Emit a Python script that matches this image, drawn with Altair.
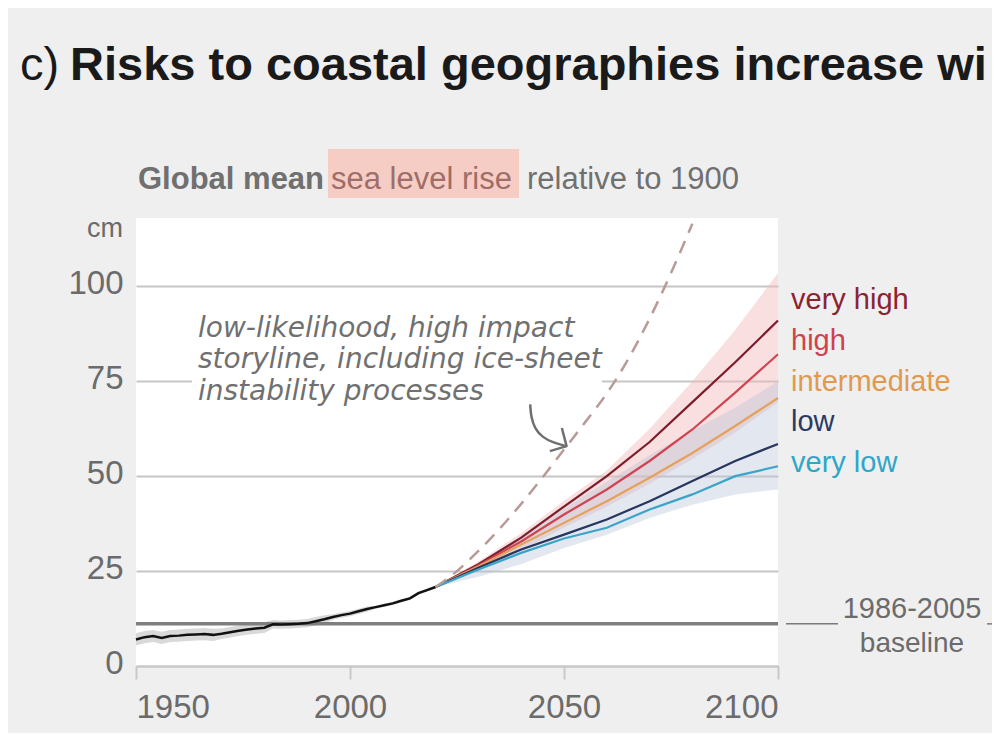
import altair as alt
import pandas as pd

# ---------------- data ----------------
hist_years = [1950, 1952, 1954, 1956, 1958, 1960, 1962, 1964, 1966, 1968,
              1970, 1972, 1974, 1976, 1978, 1980, 1982, 1984, 1986, 1988,
              1990, 1992, 1994, 1996, 1998, 2000, 2002, 2004, 2006, 2008,
              2010, 2012, 2014, 2016, 2018, 2020]
hist_values = [7.0, 7.6, 7.9, 7.4, 7.9, 8.0, 8.2, 8.3, 8.4, 8.2,
               8.5, 8.9, 9.3, 9.6, 9.9, 10.1, 11.0, 10.9, 11.0, 11.1,
               11.3, 11.8, 12.3, 12.9, 13.4, 13.8, 14.4, 15.0, 15.5, 16.0,
               16.5, 17.2, 17.8, 19.2, 20.0, 20.8]
hist_lo = [5.4, 6.0, 6.3, 5.8, 6.3, 6.4, 6.6, 6.7, 6.8, 6.6,
           7.1, 7.5, 7.9, 8.2, 8.5, 8.7, 9.9, 9.8, 9.9, 10.0,
           10.2, 10.7, 11.2, 12.2, 12.7, 13.1, 13.7, 14.3, 15.1, 15.6,
           16.1, 16.8, 17.4, 18.8, 19.6, 20.4]
hist_hi = [8.6, 9.2, 9.5, 9.0, 9.5, 9.6, 9.8, 9.9, 10.0, 9.8,
           9.9, 10.3, 10.7, 11.0, 11.3, 11.5, 12.1, 12.0, 12.1, 12.2,
           12.4, 12.9, 13.4, 13.6, 14.1, 14.5, 15.1, 15.7, 15.9, 16.4,
           16.9, 17.6, 18.2, 19.6, 20.4, 21.2]

proj_years = [2020, 2030, 2040, 2050, 2060, 2070, 2080, 2090, 2100]
scenarios = ["very high", "high", "intermediate", "low", "very low"]
very_high = [20.8, 26.8, 33.8, 42.0, 50.0, 59.0, 69.5, 80.0, 91.0]
high = [20.8, 26.5, 32.8, 39.9, 46.5, 54.0, 62.3, 72.0, 82.1]
intermediate = [20.8, 26.2, 32.0, 37.7, 43.4, 49.6, 56.1, 63.2, 70.6]
low = [20.8, 25.9, 30.7, 34.6, 38.6, 43.4, 48.7, 54.0, 58.5]
very_low = [20.8, 25.4, 29.8, 33.6, 36.4, 41.2, 45.2, 50.0, 52.6]

high_band_lo = [20.8, 25.0, 30.5, 36.5, 42.0, 48.0, 54.5, 61.5, 69.5]
high_band_hi = [20.8, 27.5, 35.0, 43.5, 51.5, 62.5, 75.0, 88.5, 103.5]
low_band_lo = [20.8, 23.5, 26.8, 31.1, 34.6, 39.0, 42.5, 45.2, 46.5]
low_band_hi = [20.8, 27.0, 34.0, 41.5, 48.5, 55.5, 62.0, 68.0, 75.0]

storyline_years = [2020, 2025, 2030, 2035, 2040, 2045, 2050, 2055, 2060, 2065, 2070, 2075, 2080]
storyline_values = [20.8, 25.0, 30.3, 36.2, 42.7, 49.7, 57.0, 64.3, 71.8, 80.8, 91.5, 103.5, 116.5]

baseline_value = 11.1

x_ticks = [1950, 2000, 2050, 2100]
y_ticks = [0, 25, 50, 75, 100]

annotation_lines = ["low-likelihood, high impact",
                    "storyline, including ice-sheet",
                    "instability processes"]

arrow_years = [2042.1, 2042.3, 2043.2, 2045.0, 2047.5, 2050.6]
arrow_values = [68.9, 65.5, 62.5, 60.2, 58.8, 57.9]
arrowhead_years = [2046.7, 2050.6, 2049.5]
arrowhead_values = [56.6, 57.9, 62.7]

# ---------------- styles ----------------
line_colors = ["#7d1d2b", "#d04452", "#e5a15c", "#27365e", "#3ba5c9"]
label_colors = ["#8c2330", "#d0414e", "#e09a4f", "#2b3a63", "#30a6c8"]
label_y_px = [91, 132, 173, 213, 254]
GRAY = "#6b6b6b"
FONT = "Liberation Sans"

W, H = 642, 448
xs = alt.Scale(domain=[1950, 2100], nice=False, zero=False)
ys = alt.Scale(domain=[0, 118], nice=False)

hist_df = pd.DataFrame({"year": hist_years, "value": hist_values, "lo": hist_lo, "hi": hist_hi})
proj_df = pd.DataFrame(
    [{"year": y, "scenario": s, "value": v}
     for s, vals in zip(scenarios, [very_high, high, intermediate, low, very_low])
     for y, v in zip(proj_years, vals)]
)
band_df = pd.DataFrame({"year": proj_years, "hlo": high_band_lo, "hhi": high_band_hi,
                        "llo": low_band_lo, "lhi": low_band_hi})
story_df = pd.DataFrame({"year": storyline_years, "value": storyline_values})
arrow_df = pd.DataFrame({"year": arrow_years, "value": arrow_values})
head_df = pd.DataFrame({"year": arrowhead_years, "value": arrowhead_values,
                        "order": list(range(len(arrowhead_years)))})
one = pd.DataFrame({"a": [0]})

x_axis = alt.Axis(values=x_ticks, format="d", title=None, grid=False,
                  domainColor="#c8c8c8", domainWidth=2, tickColor="#c8c8c8", tickWidth=2,
                  tickSize=13, labelFontSize=33, labelColor=GRAY, labelPadding=12,
                  labelFont=FONT)
y_axis = alt.Axis(values=y_ticks, title=None, grid=True, gridColor="#c6c6c6", gridWidth=2,
                  domain=False, ticks=False, labelFontSize=33, labelColor=GRAY,
                  labelPadding=13, labelBaseline="alphabetic", labelOffset=7,
                  labelFont=FONT)

pink_band = alt.Chart(band_df).mark_area(color="#f2b8b8", opacity=0.45).encode(
    x=alt.X("year:Q", scale=xs, axis=x_axis),
    y=alt.Y("hlo:Q", scale=ys, axis=y_axis),
    y2="hhi:Q",
)
blue_band = alt.Chart(band_df).mark_area(color="#b8c2d8", opacity=0.4).encode(
    x=alt.X("year:Q", scale=xs), y=alt.Y("llo:Q", scale=ys), y2="lhi:Q")

hist_band = alt.Chart(hist_df).mark_area(color="#d9d9d9").encode(
    x=alt.X("year:Q", scale=xs), y=alt.Y("lo:Q", scale=ys), y2="hi:Q")

cover = alt.Chart(one).mark_rect(color="white").encode(
    x=alt.value(56), x2=alt.value(466), y=alt.value(159), y2=alt.value(167))

base_rule = alt.Chart(one).mark_rule(color="#7f7f7f", strokeWidth=3.5).encode(
    y=alt.datum(baseline_value, scale=ys))

hist_line = alt.Chart(hist_df).mark_line(color="#111111", strokeWidth=2.5).encode(
    x=alt.X("year:Q", scale=xs), y=alt.Y("value:Q", scale=ys))

proj_lines = alt.Chart(proj_df).mark_line(strokeWidth=2.2).encode(
    x=alt.X("year:Q", scale=xs), y=alt.Y("value:Q", scale=ys),
    color=alt.Color("scenario:N", scale=alt.Scale(domain=scenarios, range=line_colors), legend=None),
    detail="scenario:N",
)

story = alt.Chart(story_df).mark_line(color="#b89a97", strokeWidth=2.5, strokeDash=[13, 9],
                                      interpolate="monotone").encode(
    x=alt.X("year:Q", scale=xs), y=alt.Y("value:Q", scale=ys))

arrow = alt.Chart(arrow_df).mark_line(color="#707070", strokeWidth=2.5, interpolate="basis").encode(
    x=alt.X("year:Q", scale=xs), y=alt.Y("value:Q", scale=ys))
arrowhead = alt.Chart(head_df).mark_line(color="#707070", strokeWidth=2.5, strokeJoin="round").encode(
    x=alt.X("year:Q", scale=xs), y=alt.Y("value:Q", scale=ys), order="order:Q")


def text_px(txt, x, y, size, color, weight="normal", align="left", style="normal",
            baseline="alphabetic", font=FONT):
    return alt.Chart(one).mark_text(
        text=txt, fontSize=size, color=color, fontWeight=weight, align=align,
        baseline=baseline, font=font, fontStyle=style
    ).encode(x=alt.value(x), y=alt.value(y))


annot = [text_px(t, 62, yy, 28, "#707070", style="italic", font="DejaVu Sans")
         for t, yy in zip(annotation_lines, [119, 150, 182])]

labels = [text_px(s, 655, yy, 29, c) for s, yy, c in zip(scenarios, label_y_px, label_colors)]

highlight = alt.Chart(one).mark_rect(color="#f6cdc5").encode(
    x=alt.value(192), x2=alt.value(383), y=alt.value(-69), y2=alt.value(-20))

titles = [
    text_px("c)", -116, -138, 47, "#1a1a1a"),
    text_px("Risks to coastal geographies increase wi", -66, -138, 47, "#1a1a1a", weight="bold"),
    text_px("Global mean", 2, -29, 31, "#707070", weight="bold"),
    text_px("sea level rise", 195, -29, 31, "#a06d68"),
    text_px("relative to 1900", 391, -29, 31, "#707070"),
    text_px("cm", -13, 19, 27, GRAY, align="right"),
    text_px("1986-2005", 776, 400, 29, GRAY, align="center"),
    text_px("baseline", 776, 434, 28, GRAY, align="center"),
]

outside_rules = [
    alt.Chart(one).mark_rule(color="#7a7a7a", strokeWidth=1.5).encode(
        x=alt.value(650), x2=alt.value(702), y=alt.datum(baseline_value, scale=ys)),
    alt.Chart(one).mark_rule(color="#7a7a7a", strokeWidth=1.5).encode(
        x=alt.value(851), x2=alt.value(870), y=alt.datum(baseline_value, scale=ys)),
]

chart = alt.layer(
    pink_band, blue_band, hist_band, cover, base_rule, hist_line, proj_lines, story,
    arrow, arrowhead, *annot, *labels, highlight, *titles, *outside_rules
).properties(
    width=W, height=H,
    autosize=alt.AutoSizeParams(type="none"),
    padding={"left": 128, "top": 210, "right": 214, "bottom": 67},
).configure(
    background="#efefef", font=FONT
).configure_view(fill="white", stroke=None)

chart.save("out.html", embed_options={"renderer": "svg", "actions": False})
